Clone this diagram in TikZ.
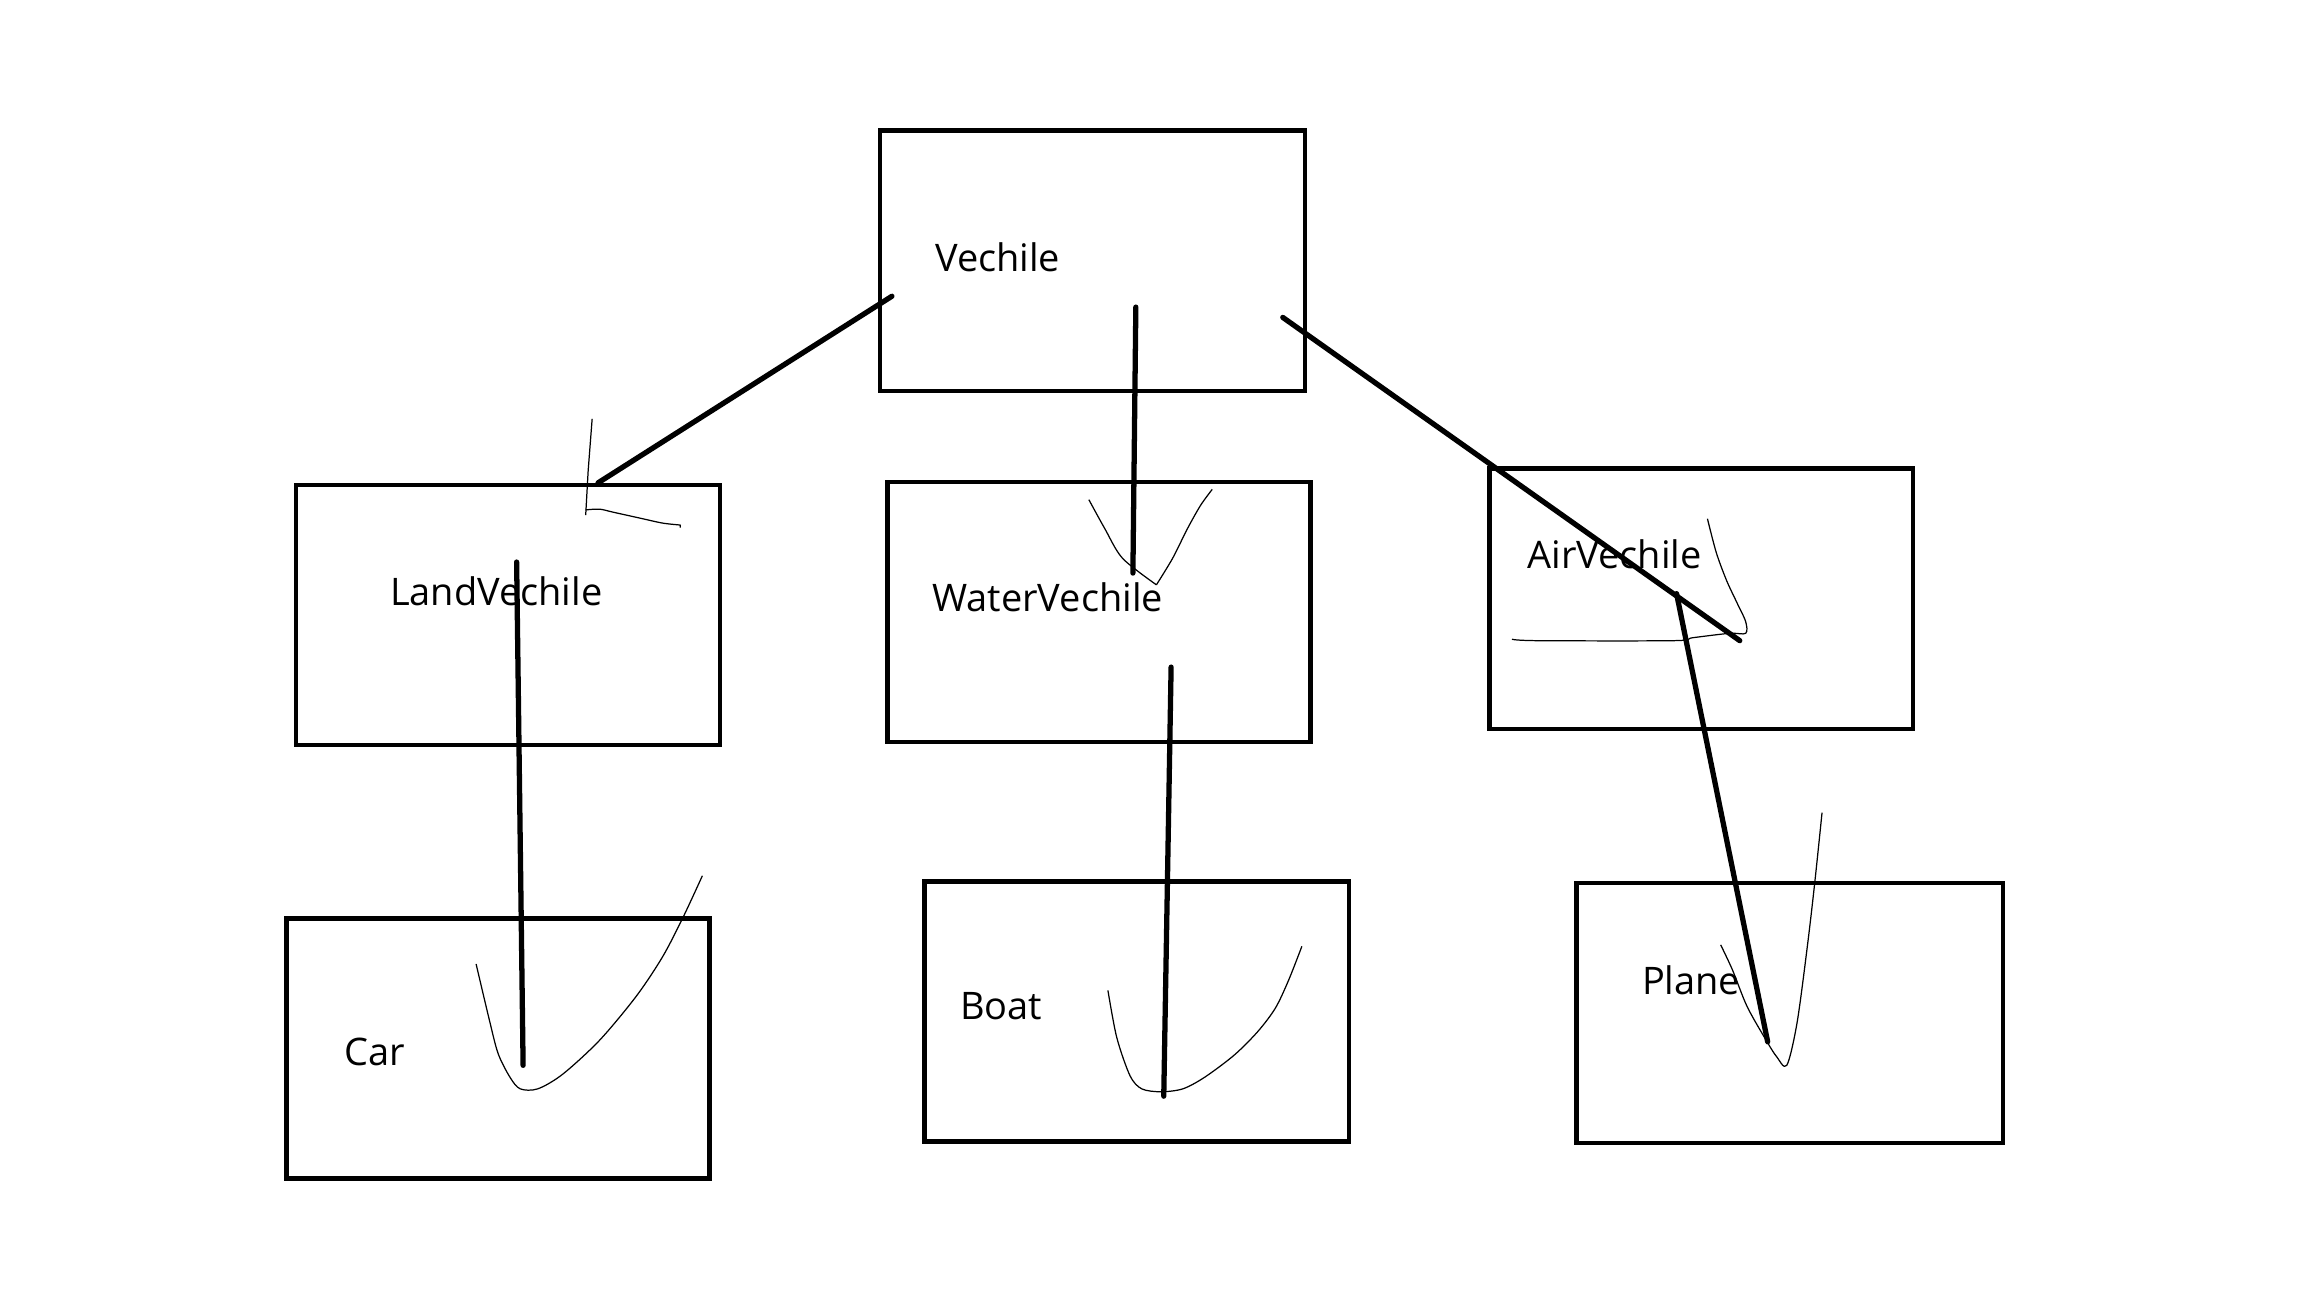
\documentclass[tikz,border=0pt]{standalone}
\usepackage{fontspec}
\setmainfont{Open Sans}
\usetikzlibrary{fit}
\begin{document}
\begin{tikzpicture}[x=0.014694cm,y=-0.014694cm,
  box/.style={draw=black,line width=1.3pt,inner sep=0pt,fill=none},
  lbl/.style={font=\fontsize{10.8}{13}\selectfont,inner sep=0pt,anchor=base west,text=black},
  conn/.style={draw=black,line width=1.5pt,line cap=round},
  handline/.style={draw=black,line width=0.35pt,line join=round}]
\useasboundingbox[fill=white] (0,0) rectangle (1568,882);
% boxes
\node[box,fit={(599,89) (888,266)}] (veh) {};
\node[box,fit={(201.5,330) (490,507)}] (land) {};
\node[box,fit={(604,328) (892,505)}] (water) {};
\node[box,fit={(1013.5,319) (1302,496)}] (air) {};
\node[box,fit={(195,625) (483,802)}] (car) {};
\node[box,fit={(629,600) (918,777)}] (boat) {};
\node[box,fit={(1073,601) (1363,778)}] (plane) {};
% labels
\node[lbl] (tveh) at (636,184.5) {Vechile};
\node[lbl] (tland) at (265,412) {LandVechile};
\node[lbl] (twater) at (634,416) {WaterVechile};
\node[lbl] (tair) at (1039,386.6) {AirVechile};
\node[lbl] (tcar) at (234,725) {Car};
\node[lbl] (tboat) at (653,694) {Boat};
\node[lbl] (tplane) at (1117,677) {Plane};
% connector end points
\coordinate (v1) at (607,201.6);
\coordinate (v2) at (773,209);
\coordinate (v3) at (873,216);
\coordinate (l0) at (407,328.6);
\coordinate (w0) at (771,390);
\coordinate (a0) at (1184,436);
\coordinate (l1) at (351.6,382.5);
\coordinate (c0) at (356,725);
\coordinate (w1) at (797,454);
\coordinate (b0) at (792,746);
\coordinate (a1) at (1141,404);
\coordinate (p0) at (1203,709);
% thick connectors
\draw[conn] (v1) -- (l0);
\draw[conn] (v2) -- (w0);
\draw[conn] (v3) -- (a0);
\draw[conn] (l1) -- (c0);
\draw[conn] (w1) -- (b0);
\draw[conn] (a1) -- (p0);
% hand-drawn thin strokes
\draw[handline] (403,285) -- (400.3,320) -- (398.6,350.5);
\draw[handline] plot[smooth] coordinates {(398.6,347) (408,346.5) (417,348.5) (435.5,352.6) (451,356) (463,357.3)} -- (463,359);
\draw[handline] plot[smooth] coordinates {(741,340) (752,360) (764,380) (787,398)};
\draw[handline] plot[smooth] coordinates {(825,333) (817,344) (808,360) (798,380) (787,398)};
\draw[handline] plot[smooth] coordinates {(1162,353) (1168,376) (1175,395) (1182,410) (1188,423) (1188,431) (1177,431) (1152,434) (1139,436) (1046,436) (1029,435)};
\draw[handline] plot[smooth] coordinates {(324,656) (333,694) (339,717) (347,733) (354,741) (366,741) (383,731) (408,708) (433,678) (451,651) (465,624) (478,596)};
\draw[handline] plot[smooth] coordinates {(754,674) (760,706) (769,732) (777,741) (790,743) (805,741) (820,733) (840,718) (856,702) (868,686) (877,667) (886,644)};
\draw[handline] plot[smooth] coordinates {(1171,643) (1179,660) (1189,685) (1202,708) (1209,719) (1216,725) (1223,696) (1230,644) (1235,601) (1240,553)};
\end{tikzpicture}
\end{document}
